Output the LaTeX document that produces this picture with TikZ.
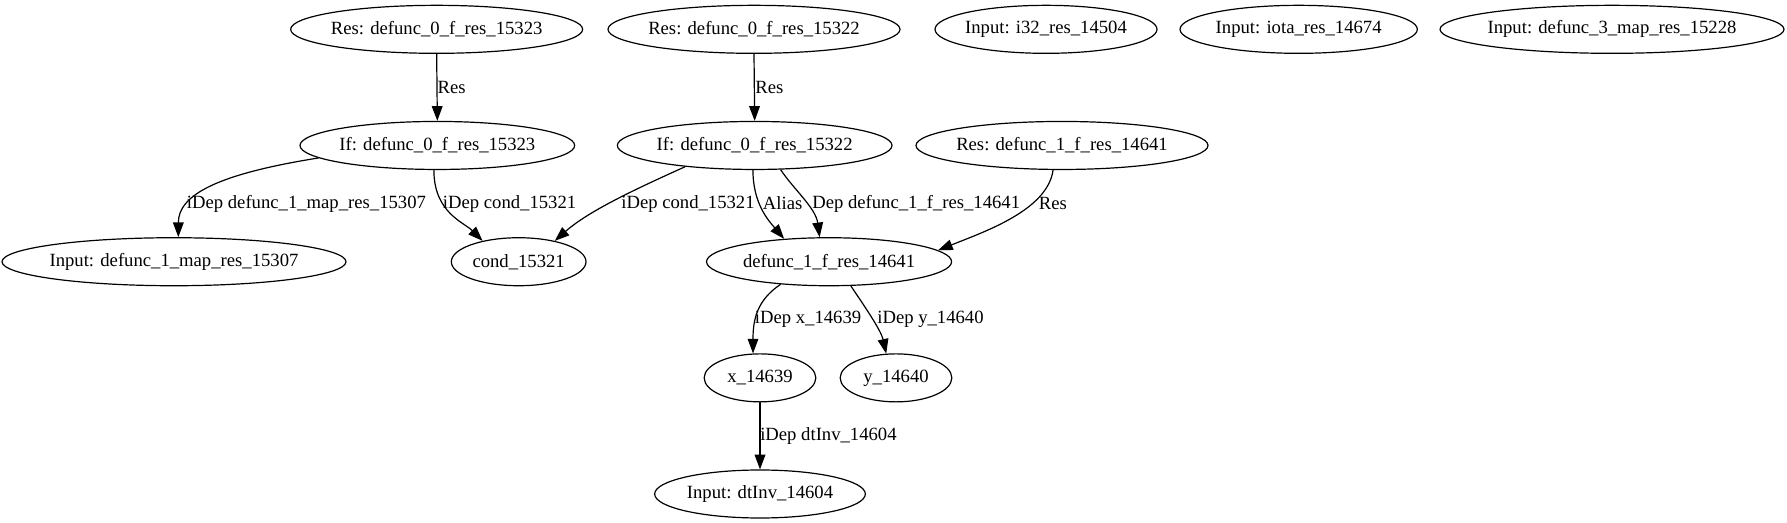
\documentclass[tikz,border=0pt]{standalone}
\usepackage{fontspec}
\setmainfont{Liberation Serif}
\usetikzlibrary{shapes.geometric,arrows.meta}
\tikzset{
  gnode/.style={ellipse, draw, line width=0.9pt, minimum height=36pt, inner xsep=-3pt, inner ysep=0pt, font=\fontsize{14}{16}\selectfont},
  elabel/.style={anchor=west, inner sep=0pt, font=\fontsize{14}{16}\selectfont},
  edge/.style={draw, line width=0.9pt, -{Triangle[length=11pt,width=8pt]}}
}
\begin{document}
\begin{tikzpicture}
\useasboundingbox (0,0) rectangle (1340.25pt,-392.25pt);
% rank 1
\node[gnode, minimum width=219pt] (resA) at (327.5pt,-22pt) {Res: defunc\_0\_f\_res\_15323};
\node[gnode, minimum width=219pt] (resB) at (565.5pt,-22pt) {Res: defunc\_0\_f\_res\_15322};
\node[gnode, minimum width=166.5pt] (i32) at (784.5pt,-22pt) {Input: i32\_res\_14504};
\node[gnode, minimum width=178pt] (iota) at (974pt,-22pt) {Input: iota\_res\_14674};
\node[gnode, minimum width=258pt] (map3) at (1209pt,-22pt) {Input: defunc\_3\_map\_res\_15228};
% rank 2
\node[gnode, minimum width=206pt] (ifA) at (328pt,-109.1pt) {If: defunc\_0\_f\_res\_15323};
\node[gnode, minimum width=206pt] (ifB) at (566pt,-109.1pt) {If: defunc\_0\_f\_res\_15322};
\node[gnode, minimum width=219pt] (resC) at (796.5pt,-109.1pt) {Res: defunc\_1\_f\_res\_14641};
% rank 3
\node[gnode, minimum width=258pt] (map1) at (130.5pt,-196.3pt) {Input: defunc\_1\_map\_res\_15307};
\node[gnode, minimum width=101pt] (cond) at (389pt,-196.3pt) {cond\_15321};
\node[gnode, minimum width=183.8pt] (def1) at (621.8pt,-196.3pt) {defunc\_1\_f\_res\_14641};
% rank 4
\node[gnode, minimum width=83.75pt] (xn) at (570pt,-283.4pt) {x\_14639};
\node[gnode, minimum width=83.75pt] (yn) at (672pt,-283.4pt) {y\_14640};
% rank 5
\node[gnode, minimum width=158pt] (dtinv) at (570pt,-370.5pt) {Input: dtInv\_14604};
% edges
\draw[edge] (resA.south) -- (ifA.north);
\node[elabel] (lA) at (328pt,-65.6pt) {Res};
\draw[edge] (resB.south) -- (ifB.north);
\node[elabel] (lB) at (566.3pt,-65.6pt) {Res};
\draw[edge] (ifA.186) .. controls +(-75pt,-12pt) and +(0pt,32pt) .. (map1.80);
\node[elabel] (lC) at (140pt,-152.7pt) {iDep defunc\_1\_map\_res\_15307};
\draw[edge] (ifA.262) .. controls +(0pt,-32pt) and +(-14pt,14pt) .. (cond.150);
\node[elabel] (lD) at (332pt,-152.7pt) {iDep cond\_15321};
\draw[edge] (ifB.197) .. controls +(-40pt,-18pt) and +(25pt,22pt) .. (cond.30);
\node[elabel] (lE) at (465.8pt,-152.7pt) {iDep cond\_15321};
\draw[edge] (ifB.266) .. controls +(0pt,-25pt) and +(-12pt,14pt) .. (def1.153);
\node[elabel] (lF) at (572pt,-152.7pt) {Alias};
\draw[edge] (ifB.317) .. controls +(10pt,-15pt) and +(-3pt,22pt) .. (def1.111);
\node[elabel] (lG) at (609pt,-152.7pt) {Dep defunc\_1\_f\_res\_14641};
\draw[edge] (resC.250) .. controls +(-4pt,-30pt) and +(35pt,14pt) .. (def1.6);
\node[elabel] (lH) at (779pt,-152.7pt) {Res};
\draw[edge] (def1.205) .. controls +(-18pt,-12pt) and +(0pt,25pt) .. (xn.106);
\node[elabel] (lI) at (566pt,-239.8pt) {iDep x\_14639};
\draw[edge] (def1.312) .. controls +(8pt,-12pt) and +(-4pt,18pt) .. (yn.112);
\node[elabel] (lJ) at (657.8pt,-239.8pt) {iDep y\_14640};
\draw[edge] (xn.south) -- (dtinv.north);
\node[elabel] (lK) at (570pt,-326.9pt) {iDep dtInv\_14604};
\end{tikzpicture}
\end{document}
